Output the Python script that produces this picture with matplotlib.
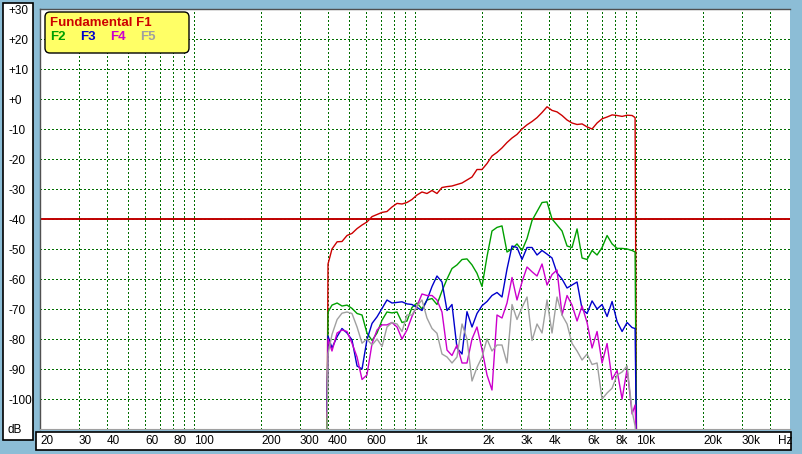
import matplotlib
matplotlib.use('Agg')
from matplotlib import pyplot as plt
from matplotlib.patches import Rectangle, FancyBboxPatch
from matplotlib.transforms import IdentityTransform
from matplotlib.ticker import FixedLocator, NullFormatter

plt.rcParams['font.family'] = ['Liberation Sans', 'DejaVu Sans']

# ============ data =================================================
freqs = [398, 402,
         419, 442, 465, 490, 516, 544, 573, 603, 636, 670,
         706, 743, 783, 825, 869, 915, 964, 1016, 1070, 1127,
         1188, 1251, 1318, 1389, 1463, 1541, 1624, 1710, 1802, 1898,
         2000, 2107, 2219, 2338, 2463, 2595, 2734, 2880, 3034, 3197,
         3368, 3548, 3738, 3938, 4148, 4370, 4604, 4851, 5110, 5384,
         5672, 5975, 6295, 6632, 6987, 7361, 7755, 8170, 8607, 9068,
         9553, 9856, 10000]

f1 = [-112, -55,
      -50, -47.6, -47.5, -45.5, -44.8, -43.2, -42, -41, -39.2, -38.5,
      -37.8, -37.5, -36, -34.8, -35, -34.5, -33.5, -32, -31, -31.5,
      -30.5, -31.5, -29.5, -29.2, -29, -28.5, -28, -27, -26, -23.5,
      -23.5, -21.5, -19, -17.8, -16.3, -14.5, -13, -11.8, -10, -8.6,
      -7.5, -6.2, -4.5, -2.6, -3.8, -4.3, -5.5, -7, -8, -8.5,
      -8.3, -9.3, -10, -8, -6.6, -6, -5.3, -5.5, -5.8, -5.4,
      -5.5, -6.2, -115]

f2 = [-112, -71,
      -68.7, -68, -69, -68.7, -69.8, -71.5, -72, -78, -80.5, -78,
      -73.7, -71, -71.3, -71, -74.5, -74, -69.5, -68, -70, -67,
      -66.5, -68.5, -64, -60, -56.5, -55.3, -53.5, -53.3, -55.3, -58.1,
      -62.5, -52.5, -44, -42.8, -42.3, -51, -50, -48.3, -50.5, -46.5,
      -40.5, -37.5, -34.5, -34.3, -40, -42, -44, -49, -49.5, -43.3,
      -53, -53.5, -50.5, -52, -49.5, -45.5, -48.3, -49.8, -49.8, -50,
      -50.5, -51, -115]

f3 = [-104, -79,
      -83, -79.2, -76.5, -78, -80.3, -89, -90, -80.3, -74.8, -72.6,
      -69.8, -67, -68, -67.8, -67.6, -68.3, -68.5, -69.5, -70.5, -67,
      -62.5, -59, -61, -70.5, -68.5, -83, -85, -70.9, -76, -71.5,
      -68.9, -67.5, -65.5, -64.5, -66, -56.7, -49, -49.5, -53.5, -49.5,
      -49.5, -52, -50.5, -51.7, -53, -58, -60, -63, -62, -61,
      -70, -71.5, -67.3, -70, -68.5, -72.5, -67.5, -74.2, -77.5, -74.5,
      -76.2, -76.5, -115]

f4 = [-106, -80,
      -84, -78, -77, -77.5, -81.4, -86, -93.5, -92, -81.5, -77,
      -75.3, -75.3, -74.5, -76, -80, -77, -72.5, -69, -65, -65.5,
      -65.5, -67, -71, -83.7, -85.5, -82, -88, -88, -80, -76,
      -83.5, -92, -97, -72, -73, -68, -59.5, -67, -61, -56,
      -57.6, -59, -55, -62, -58.5, -57, -72, -65.5, -68.7, -74,
      -69, -74.5, -83, -77.5, -88, -81.5, -93.5, -90.5, -100, -90,
      -105, -102, -115]

f5 = [-112, -85,
      -78.5, -73.5, -71.4, -71, -71.5, -76, -81.4, -80, -82, -80,
      -82.5, -76, -74.5, -75, -77.5, -72, -72, -69, -67, -73,
      -76.5, -78.1, -85, -86, -88, -86, -75, -80, -94, -89.5,
      -86, -80, -84, -82, -82, -88, -68.5, -73.5, -69.5, -66,
      -80.5, -75, -78, -67, -78, -66, -72, -75, -81.5, -84,
      -87, -85, -88.5, -88, -100, -98, -96.4, -92, -91, -89,
      -104, -109, -115]

series = [f1, f2, f3, f4, f5]
series_names = ['Fundamental F1', 'F2', 'F3', 'F4', 'F5']
series_colors = ['#CC0000', '#00A000', '#0000CC', '#CC00CC', '#A0A0A0']

x_ticks = [20, 30, 40, 60, 80, 100, 200, 300, 400, 600,
           1000, 2000, 3000, 4000, 6000, 8000, 10000, 20000, 30000]
x_tick_labels = ['20', '30', '40', '60', '80', '100', '200', '300', '400', '600',
                 '1k', '2k', '3k', '4k', '6k', '8k', '10k', '20k', '30k']
y_ticks = [30, 20, 10, 0, -10, -20, -30, -40, -50, -60, -70, -80, -90, -100]
y_tick_labels = ['+30', '+20', '+10', '+0', '-10', '-20', '-30', '-40',
                 '-50', '-60', '-70', '-80', '-90', '-100']
ref_level = -40
# ===================================================================

W, H = 803, 454
fig = plt.figure(figsize=(W / 100, H / 100), dpi=100)
fig.patch.set_facecolor('#8CBDD6')

# white label panels left and bottom (behind the axes so tick labels show)
fig.add_artist(Rectangle((3, H - 440), 30, 437, transform=IdentityTransform(),
                         fc='white', ec='black', lw=1.2, zorder=-5))
fig.add_artist(Rectangle((36, H - 450), 755, 18, transform=IdentityTransform(),
                         fc='white', ec='black', lw=1.2, zorder=-5))

ax = fig.add_axes([40 / W, 25 / H, 750 / W, 420 / H])
ax.set_facecolor('white')
ax.set_xscale('log')
ax.set_xlim(20, 49500)
ax.set_ylim(-110, 30)

minor = [m * 10 ** e for e in range(1, 5) for m in range(1, 10) if 20 <= m * 10 ** e <= 49500]
ax.set_xticks(x_ticks)
ax.set_xticklabels(x_tick_labels)
ax.xaxis.set_minor_locator(FixedLocator(minor))
ax.xaxis.set_minor_formatter(NullFormatter())
ax.set_yticks(y_ticks)
ax.set_yticklabels(y_tick_labels)

grid_style = dict(color='#006E00', ls=(0, (1, 2)), lw=0.75, antialiased=False)
ax.grid(True, which='both', axis='x', **grid_style)
ax.grid(True, which='major', axis='y', **grid_style)
ax.set_axisbelow(True)

ax.tick_params(which='both', length=0)
ax.tick_params(axis='x', pad=4.5, labelsize=8.5)
ax.tick_params(axis='y', pad=23, labelsize=8.5)
for lab in ax.get_xticklabels() + ax.get_yticklabels():
    lab.set_horizontalalignment('left')

for s in ['left', 'top']:
    ax.spines[s].set_color('#505050')
    ax.spines[s].set_linewidth(1)
ax.spines['bottom'].set_color('#A0A0A0')
ax.spines['right'].set_visible(False)

ax.axhline(ref_level, color='#C00000', lw=1.4, zorder=2)

for vals, col in zip(series, series_colors):
    ax.plot(freqs, vals, color=col, lw=1.0, zorder=3)

fig.text(8 / W, 1 - 430 / H, 'dB', fontsize=8.5, va='center', ha='left')
fig.text(778 / W, 1 - 441 / H, 'Hz', fontsize=8.5, va='center', ha='left')

# legend box
fig.add_artist(FancyBboxPatch((45, H - 53), 144, 41, boxstyle='round,pad=0,rounding_size=5',
                              transform=IdentityTransform(), fc='#FFFF66', ec='black', lw=1))
fig.text(50 / W, 1 - 23 / H, series_names[0], color=series_colors[0],
         fontsize=9.5, fontweight='bold', va='center', ha='left')
for i, xp in zip(range(1, 5), [50, 80, 110, 140]):
    fig.text(xp / W, 1 - 37 / H, series_names[i], color=series_colors[i],
             fontsize=9.5, fontweight='bold', va='center', ha='left')

fig.savefig('out.png', dpi=100, facecolor=fig.get_facecolor())
